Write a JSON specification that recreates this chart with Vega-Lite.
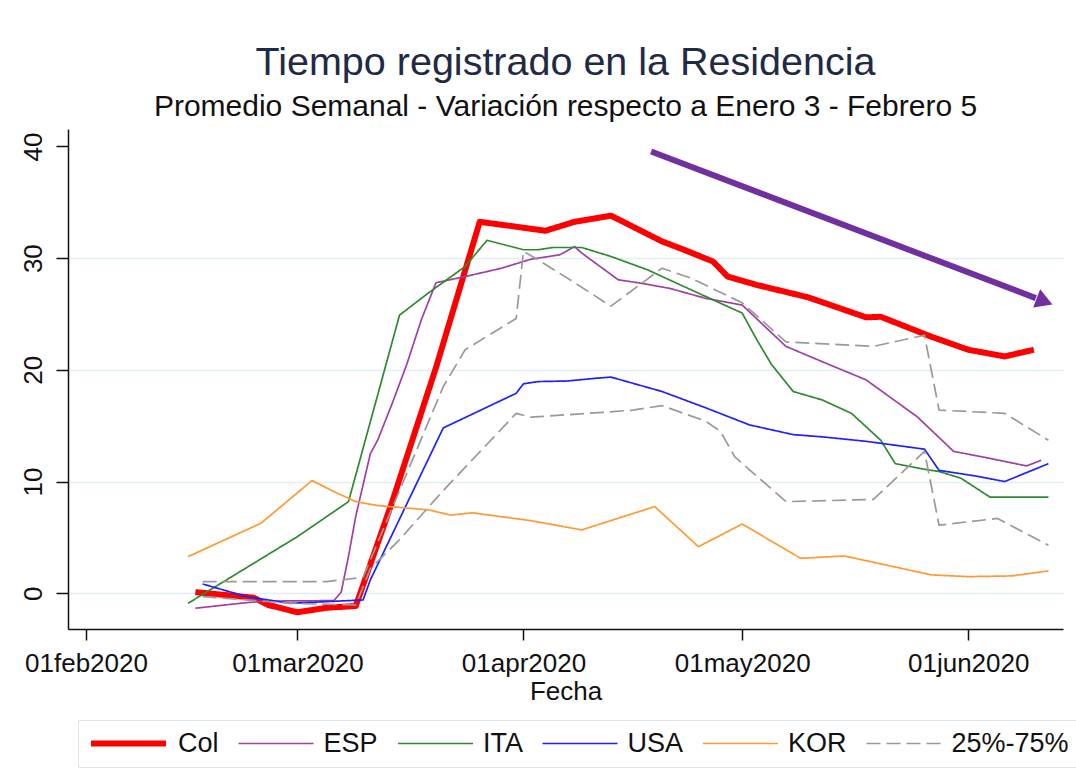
{
  "$schema": "https://vega.github.io/schema/vega-lite/v6.json",
  "width": 995,
  "height": 500,
  "autosize": {"type": "none"},
  "padding": {"left": 68, "top": 129, "right": 13, "bottom": 139},
  "background": "white",
  "config": {
    "font": "Liberation Sans",
    "view": {"stroke": null},
    "legend": {
      "orient": "none",
      "legendX": 10,
      "legendY": 591,
      "direction": "horizontal",
      "symbolType": "stroke",
      "symbolSize": 5625,
      "clipHeight": 27,
      "labelFontSize": 27,
      "labelColor": "#111111",
      "labelOffset": 9,
      "columnPadding": 18.5,
      "padding": 10,
      "strokeColor": "#dce6ea",
      "fillColor": "white",
      "labelLimit": 0
    }
  },
  "title": {
    "text": "Tiempo registrado en la Residencia",
    "subtitle": "Promedio Semanal - Variación respecto a Enero 3 - Febrero 5",
    "anchor": "middle",
    "frame": "group",
    "fontSize": 39.5,
    "fontWeight": "normal",
    "color": "#1f2a44",
    "subtitleFontSize": 30,
    "subtitleColor": "#111111",
    "subtitlePadding": 9,
    "offset": 6
  },
  "datasets": {
    "series": [
      {"serie": "Col", "linea": "Col", "fecha": "2020-02-16", "valor": 0.1},
      {"serie": "Col", "linea": "Col", "fecha": "2020-02-20", "valor": -0.15},
      {"serie": "Col", "linea": "Col", "fecha": "2020-02-24", "valor": -0.4},
      {"serie": "Col", "linea": "Col", "fecha": "2020-02-26", "valor": -1.05},
      {"serie": "Col", "linea": "Col", "fecha": "2020-03-01", "valor": -1.7},
      {"serie": "Col", "linea": "Col", "fecha": "2020-03-05", "valor": -1.3},
      {"serie": "Col", "linea": "Col", "fecha": "2020-03-09", "valor": -1.14},
      {"serie": "Col", "linea": "Col", "fecha": "2020-03-14", "valor": 8.2},
      {"serie": "Col", "linea": "Col", "fecha": "2020-03-20", "valor": 20.2},
      {"serie": "Col", "linea": "Col", "fecha": "2020-03-26", "valor": 33.25},
      {"serie": "Col", "linea": "Col", "fecha": "2020-03-30", "valor": 32.9},
      {"serie": "Col", "linea": "Col", "fecha": "2020-04-04", "valor": 32.45},
      {"serie": "Col", "linea": "Col", "fecha": "2020-04-08", "valor": 33.25},
      {"serie": "Col", "linea": "Col", "fecha": "2020-04-13", "valor": 33.8},
      {"serie": "Col", "linea": "Col", "fecha": "2020-04-20", "valor": 31.5},
      {"serie": "Col", "linea": "Col", "fecha": "2020-04-23", "valor": 30.75},
      {"serie": "Col", "linea": "Col", "fecha": "2020-04-27", "valor": 29.7},
      {"serie": "Col", "linea": "Col", "fecha": "2020-04-29", "valor": 28.35},
      {"serie": "Col", "linea": "Col", "fecha": "2020-05-03", "valor": 27.6},
      {"serie": "Col", "linea": "Col", "fecha": "2020-05-10", "valor": 26.5},
      {"serie": "Col", "linea": "Col", "fecha": "2020-05-14", "valor": 25.6},
      {"serie": "Col", "linea": "Col", "fecha": "2020-05-18", "valor": 24.7},
      {"serie": "Col", "linea": "Col", "fecha": "2020-05-20", "valor": 24.75},
      {"serie": "Col", "linea": "Col", "fecha": "2020-05-27", "valor": 22.95},
      {"serie": "Col", "linea": "Col", "fecha": "2020-06-01", "valor": 21.8},
      {"serie": "Col", "linea": "Col", "fecha": "2020-06-06", "valor": 21.2},
      {"serie": "Col", "linea": "Col", "fecha": "2020-06-10", "valor": 21.8},

      {"serie": "ESP", "linea": "ESP", "fecha": "2020-02-16", "valor": -1.34},
      {"serie": "ESP", "linea": "ESP", "fecha": "2020-02-23", "valor": -0.84},
      {"serie": "ESP", "linea": "ESP", "fecha": "2020-02-26", "valor": -0.7},
      {"serie": "ESP", "linea": "ESP", "fecha": "2020-03-06", "valor": -0.66},
      {"serie": "ESP", "linea": "ESP", "fecha": "2020-03-07", "valor": 0.1},
      {"serie": "ESP", "linea": "ESP", "fecha": "2020-03-08", "valor": 3.3},
      {"serie": "ESP", "linea": "ESP", "fecha": "2020-03-09", "valor": 6.9},
      {"serie": "ESP", "linea": "ESP", "fecha": "2020-03-11", "valor": 12.5},
      {"serie": "ESP", "linea": "ESP", "fecha": "2020-03-12", "valor": 13.7},
      {"serie": "ESP", "linea": "ESP", "fecha": "2020-03-14", "valor": 17.0},
      {"serie": "ESP", "linea": "ESP", "fecha": "2020-03-16", "valor": 20.5},
      {"serie": "ESP", "linea": "ESP", "fecha": "2020-03-18", "valor": 24.5},
      {"serie": "ESP", "linea": "ESP", "fecha": "2020-03-20", "valor": 27.8},
      {"serie": "ESP", "linea": "ESP", "fecha": "2020-03-24", "valor": 28.35},
      {"serie": "ESP", "linea": "ESP", "fecha": "2020-03-29", "valor": 29.1},
      {"serie": "ESP", "linea": "ESP", "fecha": "2020-04-02", "valor": 29.9},
      {"serie": "ESP", "linea": "ESP", "fecha": "2020-04-06", "valor": 30.3},
      {"serie": "ESP", "linea": "ESP", "fecha": "2020-04-08", "valor": 31.04},
      {"serie": "ESP", "linea": "ESP", "fecha": "2020-04-09", "valor": 30.45},
      {"serie": "ESP", "linea": "ESP", "fecha": "2020-04-14", "valor": 28.06},
      {"serie": "ESP", "linea": "ESP", "fecha": "2020-04-17", "valor": 27.77},
      {"serie": "ESP", "linea": "ESP", "fecha": "2020-04-21", "valor": 27.3},
      {"serie": "ESP", "linea": "ESP", "fecha": "2020-04-26", "valor": 26.4},
      {"serie": "ESP", "linea": "ESP", "fecha": "2020-05-01", "valor": 25.8},
      {"serie": "ESP", "linea": "ESP", "fecha": "2020-05-07", "valor": 22.1},
      {"serie": "ESP", "linea": "ESP", "fecha": "2020-05-13", "valor": 20.45},
      {"serie": "ESP", "linea": "ESP", "fecha": "2020-05-18", "valor": 19.1},
      {"serie": "ESP", "linea": "ESP", "fecha": "2020-05-25", "valor": 15.8},
      {"serie": "ESP", "linea": "ESP", "fecha": "2020-05-30", "valor": 12.7},
      {"serie": "ESP", "linea": "ESP", "fecha": "2020-06-03", "valor": 12.2},
      {"serie": "ESP", "linea": "ESP", "fecha": "2020-06-09", "valor": 11.4},
      {"serie": "ESP", "linea": "ESP", "fecha": "2020-06-11", "valor": 11.9},

      {"serie": "ITA", "linea": "ITA", "fecha": "2020-02-15", "valor": -0.9},
      {"serie": "ITA", "linea": "ITA", "fecha": "2020-03-01", "valor": 5.07},
      {"serie": "ITA", "linea": "ITA", "fecha": "2020-03-08", "valor": 8.2},
      {"serie": "ITA", "linea": "ITA", "fecha": "2020-03-15", "valor": 24.9},
      {"serie": "ITA", "linea": "ITA", "fecha": "2020-03-19", "valor": 26.9},
      {"serie": "ITA", "linea": "ITA", "fecha": "2020-03-24", "valor": 29.25},
      {"serie": "ITA", "linea": "ITA", "fecha": "2020-03-27", "valor": 31.6},
      {"serie": "ITA", "linea": "ITA", "fecha": "2020-04-01", "valor": 30.75},
      {"serie": "ITA", "linea": "ITA", "fecha": "2020-04-03", "valor": 30.75},
      {"serie": "ITA", "linea": "ITA", "fecha": "2020-04-05", "valor": 30.95},
      {"serie": "ITA", "linea": "ITA", "fecha": "2020-04-09", "valor": 30.95},
      {"serie": "ITA", "linea": "ITA", "fecha": "2020-04-13", "valor": 30.15},
      {"serie": "ITA", "linea": "ITA", "fecha": "2020-04-18", "valor": 28.96},
      {"serie": "ITA", "linea": "ITA", "fecha": "2020-04-23", "valor": 27.46},
      {"serie": "ITA", "linea": "ITA", "fecha": "2020-04-28", "valor": 25.97},
      {"serie": "ITA", "linea": "ITA", "fecha": "2020-05-01", "valor": 25.08},
      {"serie": "ITA", "linea": "ITA", "fecha": "2020-05-03", "valor": 22.7},
      {"serie": "ITA", "linea": "ITA", "fecha": "2020-05-05", "valor": 20.5},
      {"serie": "ITA", "linea": "ITA", "fecha": "2020-05-08", "valor": 18.06},
      {"serie": "ITA", "linea": "ITA", "fecha": "2020-05-12", "valor": 17.3},
      {"serie": "ITA", "linea": "ITA", "fecha": "2020-05-16", "valor": 16.1},
      {"serie": "ITA", "linea": "ITA", "fecha": "2020-05-20", "valor": 13.7},
      {"serie": "ITA", "linea": "ITA", "fecha": "2020-05-22", "valor": 11.6},
      {"serie": "ITA", "linea": "ITA", "fecha": "2020-05-26", "valor": 11.1},
      {"serie": "ITA", "linea": "ITA", "fecha": "2020-05-28", "valor": 10.9},
      {"serie": "ITA", "linea": "ITA", "fecha": "2020-05-31", "valor": 10.3},
      {"serie": "ITA", "linea": "ITA", "fecha": "2020-06-04", "valor": 8.6},
      {"serie": "ITA", "linea": "ITA", "fecha": "2020-06-12", "valor": 8.6},

      {"serie": "USA", "linea": "USA", "fecha": "2020-02-17", "valor": 0.83},
      {"serie": "USA", "linea": "USA", "fecha": "2020-02-23", "valor": -0.3},
      {"serie": "USA", "linea": "USA", "fecha": "2020-02-29", "valor": -0.9},
      {"serie": "USA", "linea": "USA", "fecha": "2020-03-10", "valor": -0.6},
      {"serie": "USA", "linea": "USA", "fecha": "2020-03-11", "valor": 1.2},
      {"serie": "USA", "linea": "USA", "fecha": "2020-03-21", "valor": 14.8},
      {"serie": "USA", "linea": "USA", "fecha": "2020-03-31", "valor": 17.9},
      {"serie": "USA", "linea": "USA", "fecha": "2020-04-01", "valor": 18.75},
      {"serie": "USA", "linea": "USA", "fecha": "2020-04-03", "valor": 18.95},
      {"serie": "USA", "linea": "USA", "fecha": "2020-04-07", "valor": 19.0},
      {"serie": "USA", "linea": "USA", "fecha": "2020-04-11", "valor": 19.25},
      {"serie": "USA", "linea": "USA", "fecha": "2020-04-13", "valor": 19.35},
      {"serie": "USA", "linea": "USA", "fecha": "2020-04-20", "valor": 18.06},
      {"serie": "USA", "linea": "USA", "fecha": "2020-04-26", "valor": 16.6},
      {"serie": "USA", "linea": "USA", "fecha": "2020-05-02", "valor": 15.07},
      {"serie": "USA", "linea": "USA", "fecha": "2020-05-08", "valor": 14.2},
      {"serie": "USA", "linea": "USA", "fecha": "2020-05-12", "valor": 14.0},
      {"serie": "USA", "linea": "USA", "fecha": "2020-05-18", "valor": 13.6},
      {"serie": "USA", "linea": "USA", "fecha": "2020-05-26", "valor": 12.9},
      {"serie": "USA", "linea": "USA", "fecha": "2020-05-28", "valor": 11.0},
      {"serie": "USA", "linea": "USA", "fecha": "2020-06-02", "valor": 10.5},
      {"serie": "USA", "linea": "USA", "fecha": "2020-06-06", "valor": 10.0},
      {"serie": "USA", "linea": "USA", "fecha": "2020-06-12", "valor": 11.6},

      {"serie": "KOR", "linea": "KOR", "fecha": "2020-02-15", "valor": 3.28},
      {"serie": "KOR", "linea": "KOR", "fecha": "2020-02-25", "valor": 6.27},
      {"serie": "KOR", "linea": "KOR", "fecha": "2020-03-03", "valor": 10.09},
      {"serie": "KOR", "linea": "KOR", "fecha": "2020-03-06", "valor": 9.1},
      {"serie": "KOR", "linea": "KOR", "fecha": "2020-03-09", "valor": 8.2},
      {"serie": "KOR", "linea": "KOR", "fecha": "2020-03-12", "valor": 7.85},
      {"serie": "KOR", "linea": "KOR", "fecha": "2020-03-19", "valor": 7.46},
      {"serie": "KOR", "linea": "KOR", "fecha": "2020-03-22", "valor": 7.0},
      {"serie": "KOR", "linea": "KOR", "fecha": "2020-03-25", "valor": 7.2},
      {"serie": "KOR", "linea": "KOR", "fecha": "2020-04-02", "valor": 6.5},
      {"serie": "KOR", "linea": "KOR", "fecha": "2020-04-09", "valor": 5.67},
      {"serie": "KOR", "linea": "KOR", "fecha": "2020-04-19", "valor": 7.76},
      {"serie": "KOR", "linea": "KOR", "fecha": "2020-04-25", "valor": 4.17},
      {"serie": "KOR", "linea": "KOR", "fecha": "2020-05-01", "valor": 6.2},
      {"serie": "KOR", "linea": "KOR", "fecha": "2020-05-09", "valor": 3.13},
      {"serie": "KOR", "linea": "KOR", "fecha": "2020-05-15", "valor": 3.34},
      {"serie": "KOR", "linea": "KOR", "fecha": "2020-05-27", "valor": 1.64},
      {"serie": "KOR", "linea": "KOR", "fecha": "2020-06-01", "valor": 1.49},
      {"serie": "KOR", "linea": "KOR", "fecha": "2020-06-07", "valor": 1.55},
      {"serie": "KOR", "linea": "KOR", "fecha": "2020-06-12", "valor": 2.0},

      {"serie": "25%-75%", "linea": "p75", "fecha": "2020-02-17", "valor": 1.04},
      {"serie": "25%-75%", "linea": "p75", "fecha": "2020-03-05", "valor": 1.04},
      {"serie": "25%-75%", "linea": "p75", "fecha": "2020-03-10", "valor": 1.43},
      {"serie": "25%-75%", "linea": "p75", "fecha": "2020-03-21", "valor": 18.5},
      {"serie": "25%-75%", "linea": "p75", "fecha": "2020-03-24", "valor": 21.8},
      {"serie": "25%-75%", "linea": "p75", "fecha": "2020-03-31", "valor": 24.6},
      {"serie": "25%-75%", "linea": "p75", "fecha": "2020-04-01", "valor": 30.6},
      {"serie": "25%-75%", "linea": "p75", "fecha": "2020-04-03", "valor": 29.85},
      {"serie": "25%-75%", "linea": "p75", "fecha": "2020-04-08", "valor": 27.8},
      {"serie": "25%-75%", "linea": "p75", "fecha": "2020-04-13", "valor": 25.7},
      {"serie": "25%-75%", "linea": "p75", "fecha": "2020-04-20", "valor": 29.1},
      {"serie": "25%-75%", "linea": "p75", "fecha": "2020-04-24", "valor": 28.2},
      {"serie": "25%-75%", "linea": "p75", "fecha": "2020-05-01", "valor": 26.0},
      {"serie": "25%-75%", "linea": "p75", "fecha": "2020-05-07", "valor": 22.5},
      {"serie": "25%-75%", "linea": "p75", "fecha": "2020-05-19", "valor": 22.1},
      {"serie": "25%-75%", "linea": "p75", "fecha": "2020-05-26", "valor": 23.1},
      {"serie": "25%-75%", "linea": "p75", "fecha": "2020-05-28", "valor": 16.4},
      {"serie": "25%-75%", "linea": "p75", "fecha": "2020-06-06", "valor": 16.1},
      {"serie": "25%-75%", "linea": "p75", "fecha": "2020-06-12", "valor": 13.7},

      {"serie": "25%-75%", "linea": "p25", "fecha": "2020-02-17", "valor": -0.3},
      {"serie": "25%-75%", "linea": "p25", "fecha": "2020-02-29", "valor": -0.9},
      {"serie": "25%-75%", "linea": "p25", "fecha": "2020-03-09", "valor": -1.05},
      {"serie": "25%-75%", "linea": "p25", "fecha": "2020-03-11", "valor": 2.2},
      {"serie": "25%-75%", "linea": "p25", "fecha": "2020-03-15", "valor": 4.8},
      {"serie": "25%-75%", "linea": "p25", "fecha": "2020-03-21", "valor": 9.2},
      {"serie": "25%-75%", "linea": "p25", "fecha": "2020-03-31", "valor": 16.1},
      {"serie": "25%-75%", "linea": "p25", "fecha": "2020-04-02", "valor": 15.76},
      {"serie": "25%-75%", "linea": "p25", "fecha": "2020-04-12", "valor": 16.2},
      {"serie": "25%-75%", "linea": "p25", "fecha": "2020-04-16", "valor": 16.4},
      {"serie": "25%-75%", "linea": "p25", "fecha": "2020-04-20", "valor": 16.8},
      {"serie": "25%-75%", "linea": "p25", "fecha": "2020-04-26", "valor": 15.4},
      {"serie": "25%-75%", "linea": "p25", "fecha": "2020-04-28", "valor": 14.5},
      {"serie": "25%-75%", "linea": "p25", "fecha": "2020-04-30", "valor": 12.2},
      {"serie": "25%-75%", "linea": "p25", "fecha": "2020-05-07", "valor": 8.2},
      {"serie": "25%-75%", "linea": "p25", "fecha": "2020-05-19", "valor": 8.4},
      {"serie": "25%-75%", "linea": "p25", "fecha": "2020-05-26", "valor": 12.7},
      {"serie": "25%-75%", "linea": "p25", "fecha": "2020-05-28", "valor": 6.1},
      {"serie": "25%-75%", "linea": "p25", "fecha": "2020-06-05", "valor": 6.7},
      {"serie": "25%-75%", "linea": "p25", "fecha": "2020-06-12", "valor": 4.3}
    ],
    "flecha": [
      {"x": "2020-04-18T12:15:00Z", "y": 39.55, "x2": "2020-06-10T06:30:00Z", "y2": 26.42}
    ],
    "punta": [
      {"x": "2020-06-11T11:15:00Z", "y": 26.12}
    ]
  },
  "layer": [
    {
      "data": {"name": "series"},
      "mark": {"type": "line", "strokeCap": "butt", "strokeJoin": "round"},
      "encoding": {
        "x": {
          "field": "fecha",
          "type": "temporal",
          "scale": {"type": "utc", "domain": ["2020-01-29T12:43:00Z", "2020-06-14T00:00:00Z"], "nice": false},
          "axis": {
            "values": [
              {"year": 2020, "month": 2, "date": 1, "utc": true},
              {"year": 2020, "month": 3, "date": 1, "utc": true},
              {"year": 2020, "month": 4, "date": 1, "utc": true},
              {"year": 2020, "month": 5, "date": 1, "utc": true},
              {"year": 2020, "month": 6, "date": 1, "utc": true}
            ],
            "labelExpr": "lower(utcFormat(datum.value, '%d%b%Y'))",
            "title": "Fecha",
            "titleFontSize": 26,
            "titleFontWeight": "normal",
            "titleColor": "#111111",
            "titlePadding": 2,
            "labelFontSize": 26,
            "labelColor": "#111111",
            "labelPadding": 10,
            "labelFlush": false,
            "labelOverlap": false,
            "tickSize": 11,
            "tickColor": "#111111",
            "tickWidth": 1.5,
            "domainColor": "#111111",
            "domainWidth": 1.5,
            "grid": false
          }
        },
        "y": {
          "field": "valor",
          "type": "quantitative",
          "scale": {"domain": [-3.2, 41.56], "nice": false, "zero": false},
          "axis": {
            "values": [0, 10, 20, 30, 40],
            "title": null,
            "labelAngle": 270,
            "labelAlign": "center",
            "labelBaseline": "bottom",
            "labelFontSize": 26,
            "labelColor": "#111111",
            "labelPadding": 10,
            "tickSize": 12,
            "tickColor": "#111111",
            "tickWidth": 1.5,
            "domainColor": "#111111",
            "domainWidth": 1.5,
            "grid": true,
            "gridColor": "#e4eef0",
            "gridWidth": 1.5,
            "gridOpacity": {"condition": {"test": "datum.value == 40", "value": 0}, "value": 1}
          }
        },
        "color": {
          "field": "serie",
          "type": "nominal",
          "scale": {
            "domain": ["Col", "ESP", "ITA", "USA", "KOR", "25%-75%"],
            "range": ["#ff0000", "#a040a0", "#2f8a2f", "#2020ff", "#ff9933", "#999999"]
          },
          "legend": {"title": null}
        },
        "strokeDash": {
          "field": "serie",
          "type": "nominal",
          "scale": {
            "domain": ["Col", "ESP", "ITA", "USA", "KOR", "25%-75%"],
            "range": [[1, 0], [1, 0], [1, 0], [1, 0], [1, 0], [14, 6]]
          },
          "legend": {"title": null}
        },
        "strokeWidth": {
          "field": "serie",
          "type": "nominal",
          "scale": {
            "type": "ordinal",
            "domain": ["Col", "ESP", "ITA", "USA", "KOR", "25%-75%"],
            "range": [6, 1.7, 1.7, 1.7, 1.7, 1.7]
          },
          "legend": {"title": null}
        },
        "detail": {"field": "linea", "type": "nominal"}
      }
    },
    {
      "data": {"name": "flecha"},
      "mark": {"type": "rule", "color": "#7030a0", "strokeWidth": 6, "strokeCap": "butt"},
      "encoding": {
        "x": {"field": "x", "type": "temporal"},
        "y": {"field": "y", "type": "quantitative"},
        "x2": {"field": "x2"},
        "y2": {"field": "y2"}
      }
    },
    {
      "data": {"name": "punta"},
      "mark": {"type": "point", "shape": "triangle-right", "filled": true, "color": "#7030a0", "opacity": 1, "size": 380, "angle": 21, "strokeWidth": 0},
      "encoding": {
        "x": {"field": "x", "type": "temporal"},
        "y": {"field": "y", "type": "quantitative"}
      }
    }
  ]
}
